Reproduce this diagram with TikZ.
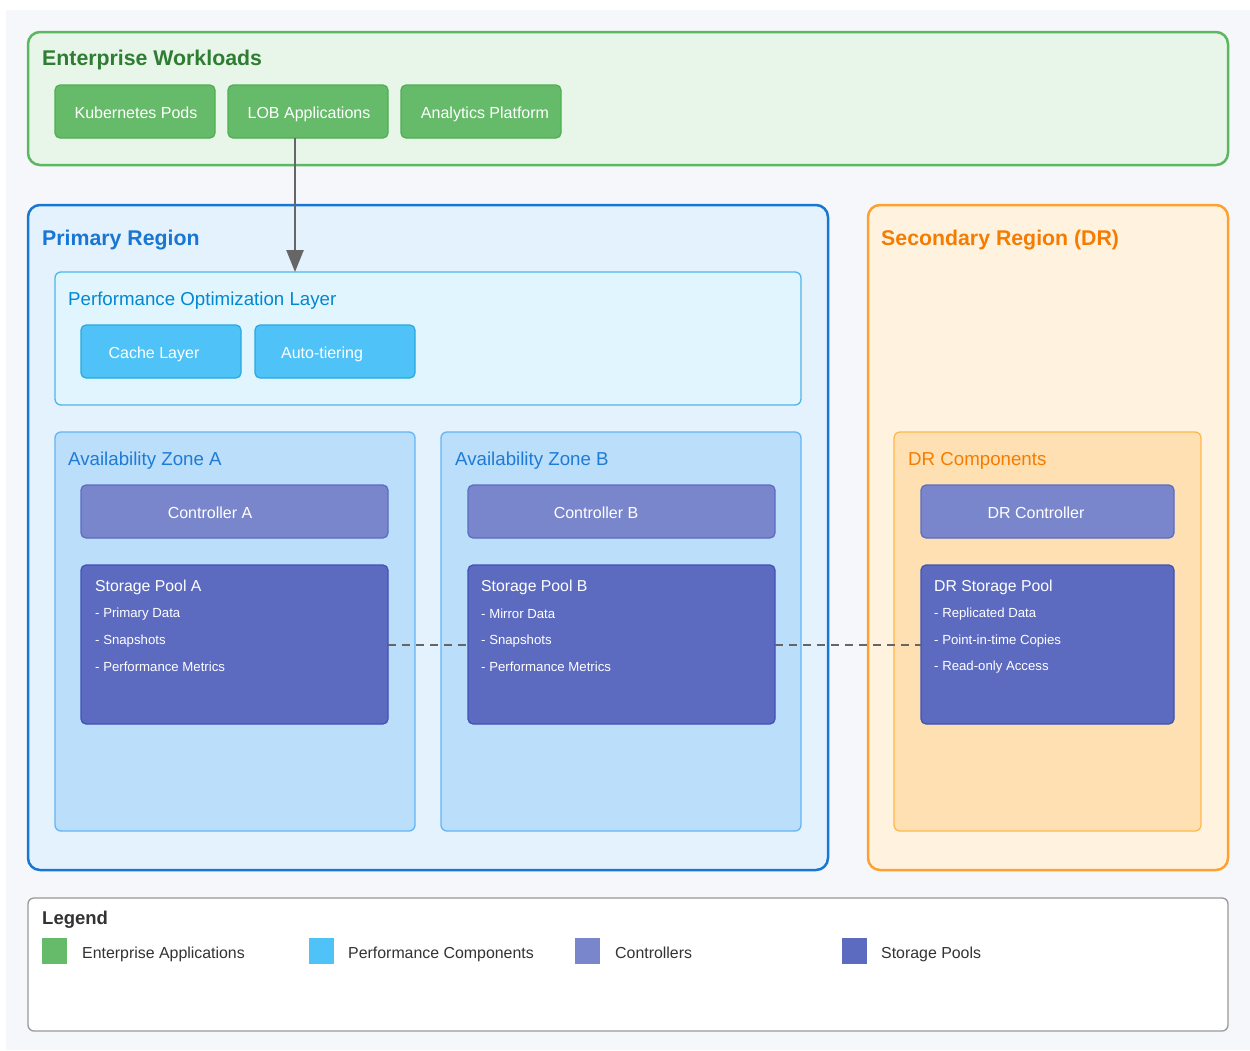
\documentclass[tikz,border=0pt]{standalone}
\usepackage{fontspec}
\setmainfont{Liberation Sans}
\usetikzlibrary{arrows.meta}

% palette
\definecolor{pagebg}{HTML}{F5F7FA}
\definecolor{ewfill}{HTML}{E8F5E9}
\definecolor{ewline}{HTML}{5CB860}
\definecolor{ewtext}{HTML}{2E7D32}
\definecolor{appfill}{HTML}{66BB6A}
\definecolor{appline}{HTML}{4CAF50}
\definecolor{prfill}{HTML}{E3F2FD}
\definecolor{prline}{HTML}{1976D2}
\definecolor{pofill}{HTML}{E1F5FE}
\definecolor{poline}{HTML}{4FB6E8}
\definecolor{potext}{HTML}{0288D1}
\definecolor{perffill}{HTML}{4FC3F7}
\definecolor{perfline}{HTML}{29A8E0}
\definecolor{azfill}{HTML}{BBDEFB}
\definecolor{azline}{HTML}{64B5F6}
\definecolor{aztext}{HTML}{1E7BD6}
\definecolor{ctlfill}{HTML}{7986CB}
\definecolor{ctlline}{HTML}{5C6BC0}
\definecolor{poolfill}{HTML}{5C6BC0}
\definecolor{poolline}{HTML}{3F51B5}
\definecolor{srfill}{HTML}{FFF3E0}
\definecolor{srline}{HTML}{FFA030}
\definecolor{srtext}{HTML}{F57C00}
\definecolor{drfill}{HTML}{FFE0B2}
\definecolor{drline}{HTML}{FFB74D}
\definecolor{conn}{HTML}{666666}
\definecolor{lgline}{HTML}{999999}
\definecolor{lgtext}{HTML}{333333}

\tikzset{
  box/.style={anchor=north west, inner sep=0pt, outer sep=0pt},
  region/.style={box, draw, line width=2.5pt, rounded corners=12pt},
  panel/.style={box, draw, line width=1.3pt, rounded corners=6pt},
  btn/.style={box, draw, line width=1.2pt, rounded corners=5pt, minimum height=53pt},
  app/.style={btn, fill=appfill, draw=appline, minimum width=160pt},
  perfbtn/.style={btn, fill=perffill, draw=perfline, minimum width=160pt},
  ctl/.style={btn, fill=ctlfill, draw=ctlline},
  btntext/.style={inner sep=0pt, text=white, text height=11.5pt, text depth=3.5pt,
    font=\fontsize{16}{19}\selectfont},
  pool/.style={box, draw=poolline, fill=poolfill, line width=1.2pt, rounded corners=5pt, minimum height=159pt},
  bigtitle/.style={anchor=west, inner sep=0pt, font=\fontsize{21.3}{25}\selectfont\bfseries},
  subtitle/.style={anchor=west, inner sep=0pt, font=\fontsize{18.7}{22}\selectfont},
  pooltitle/.style={anchor=west, inner sep=0pt, text=white, font=\fontsize{15.8}{19}\selectfont},
  poolitem/.style={anchor=west, inner sep=0pt, text=white, font=\fontsize{13.2}{16}\selectfont},
  swatch/.style={anchor=north west, inner sep=0pt, minimum width=25pt, minimum height=26pt},
  lgitem/.style={anchor=west, inner sep=0pt, text=lgtext, text height=11.5pt, text depth=3.5pt,
    font=\fontsize{15.9}{19}\selectfont},
  flow/.style={draw=conn, line width=2.5pt, -{Triangle[width=17pt,length=22pt]}},
  replica/.style={draw=conn, line width=2pt, dash pattern=on 8pt off 6pt},
}

\begin{document}
\begin{tikzpicture}[x=1pt, y=-1pt]
\useasboundingbox (0,0) rectangle (1250,1050);
\fill[white] (0,0) rectangle (1250,1050);
\fill[pagebg] (6,10) rectangle (1250,1050);

% --- enterprise workloads
\node[region, draw=ewline, fill=ewfill, minimum width=1200pt, minimum height=133pt] (ew) at (28,32) {};
\node[bigtitle, text=ewtext] (ewt) at (42,60) {Enterprise Workloads};
\node[app] (k8s) at (55,85) {};
\node[app] (lob) at (228,85) {};
\node[app] (ana) at (401,85) {};
\node[btntext] (k8st) at (136,114) {Kubernetes Pods};
\node[btntext] (lobt) at (309,114) {LOB Applications};
\node[btntext] (anat) at (485,114) {Analytics Platform};

% --- primary region
\node[region, draw=prline, fill=prfill, minimum width=800pt, minimum height=665pt] (pr) at (28,205) {};
\node[bigtitle, text=prline] (prt) at (42,240) {Primary Region};

\node[panel, draw=poline, fill=pofill, minimum width=746pt, minimum height=133pt] (pol) at (55,272) {};
\node[subtitle, text=potext] (polt) at (68,300.5) {Performance Optimization Layer};
\node[perfbtn] (cache) at (81,325) {};
\node[perfbtn] (tier) at (255,325) {};
\node[btntext] (cachet) at (154,354) {Cache Layer};
\node[btntext] (tiert) at (322,354) {Auto-tiering};

\node[panel, draw=azline, fill=azfill, minimum width=360pt, minimum height=399pt] (aza) at (55,432) {};
\node[subtitle, text=aztext] (azat) at (68,460.5) {Availability Zone A};
\node[ctl, minimum width=307pt] (ctla) at (81,485) {};
\node[btntext] (ctlat) at (210,514) {Controller A};
\node[pool, minimum width=307pt] (poola) at (81,565) {};
\node[pooltitle] (poolat) at (95,587.5) {Storage Pool A};
\node[poolitem] (poola1) at (95,614) {- Primary Data};
\node[poolitem] (poola2) at (95,641) {- Snapshots};
\node[poolitem] (poola3) at (95,667) {- Performance Metrics};

\node[panel, draw=azline, fill=azfill, minimum width=360pt, minimum height=399pt] (azb) at (441,432) {};
\node[subtitle, text=aztext] (azbt) at (455,460.5) {Availability Zone B};
\node[ctl, minimum width=307pt] (ctlb) at (468,485) {};
\node[btntext] (ctlbt) at (596,514) {Controller B};
\node[pool, minimum width=307pt] (poolb) at (468,565) {};
\node[pooltitle] (poolbt) at (481,587.5) {Storage Pool B};
\node[poolitem] (poolb1) at (481,614) {- Mirror Data};
\node[poolitem] (poolb2) at (481,641) {- Snapshots};
\node[poolitem] (poolb3) at (481,667) {- Performance Metrics};

% --- secondary region
\node[region, draw=srline, fill=srfill, minimum width=360pt, minimum height=665pt] (sr) at (868,205) {};
\node[bigtitle, text=srtext] (srt) at (881,240) {Secondary Region (DR)};

\node[panel, draw=drline, fill=drfill, minimum width=307pt, minimum height=399pt] (drc) at (894,432) {};
\node[subtitle, text=srtext] (drct) at (908,460.5) {DR Components};
\node[ctl, minimum width=253pt] (drctl) at (921,485) {};
\node[btntext] (drctlt) at (1036,514) {DR Controller};
\node[pool, minimum width=253pt] (drpool) at (921,565) {};
\node[pooltitle] (drpoolt) at (934,587.5) {DR Storage Pool};
\node[poolitem] (drpool1) at (934,614) {- Replicated Data};
\node[poolitem] (drpool2) at (934,641) {- Point-in-time Copies};
\node[poolitem] (drpool3) at (934,667) {- Read-only Access};

% --- connectors
\draw[flow] ([xshift=-13pt]lob.south) -- ([xshift=-13pt]lob.south |- pol.north);
\draw[replica] (poola.east) -- (poolb.west);
\draw[replica] (poolb.east) -- (drpool.west);

% --- legend
\node[box, draw=lgline, fill=white, line width=1.3pt, rounded corners=6pt,
      minimum width=1200pt, minimum height=133pt] (lg) at (28,898) {};
\node[anchor=west, inner sep=0pt, text=lgtext, font=\fontsize{18.5}{22}\selectfont\bfseries] (lgt) at (42,920) {Legend};
\node[swatch, fill=appfill] (sw1) at (42,938) {};
\node[lgitem] (lg1) at (82,954) {Enterprise Applications};
\node[swatch, fill=perffill] (sw2) at (309,938) {};
\node[lgitem] (lg2) at (348,954) {Performance Components};
\node[swatch, fill=ctlfill] (sw3) at (575,938) {};
\node[lgitem] (lg3) at (615,954) {Controllers};
\node[swatch, fill=poolfill] (sw4) at (842,938) {};
\node[lgitem] (lg4) at (881,954) {Storage Pools};
\end{tikzpicture}
\end{document}
